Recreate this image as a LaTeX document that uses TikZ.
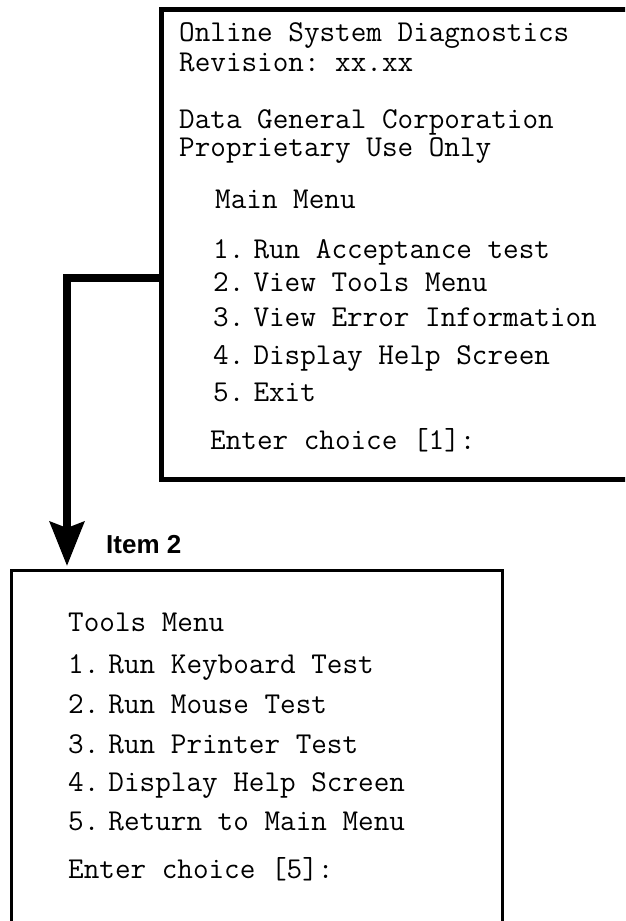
\documentclass[tikz,border=0pt]{standalone}
\usepackage{fontspec}
\setsansfont{Liberation Sans}
\usetikzlibrary{arrows.meta,positioning}
\tikzset{
  scr/.style ={draw,line width=5pt,rectangle,inner sep=0pt,anchor=north west},
  sub/.style ={draw,line width=2.5pt,rectangle,inner sep=0pt,anchor=north west},
  txt/.style ={anchor=base west,inner sep=0pt,font=\fontsize{30.3}{34}\selectfont\ttfamily\frenchspacing},
  tag/.style ={anchor=base west,inner sep=0pt,font=\fontsize{26}{30}\selectfont\sffamily\bfseries},
  conn/.style={line width=8pt,-{Stealth[length=44pt,width=34pt,inset=6pt]}},
}
\newcommand{\opt}[2]{#1.\hspace{.3em}#2}

\begin{document}
\begin{tikzpicture}[x=1pt,y=-1pt]
  \useasboundingbox (0,0) rectangle (625,921);
  \clip (0,0) rectangle (625,921);
  % the two screens (cut off at the page edge)
  \node[scr,minimum width=600pt,minimum height=470pt] (main) at (159,7) {};
  \node[sub,minimum width=491pt,minimum height=500pt] (tools) at (10,569) {};
  % main menu screen
  \node[txt] (h1) at (179,41)  {Online System Diagnostics};
  \node[txt] (h2) at (179,71)  {Revision: xx.xx};
  \node[txt] (h3) at (179,128) {Data General Corporation};
  \node[txt] (h4) at (179,156) {Proprietary Use Only};
  \node[txt] (mm) at (215,208) {Main Menu};
  \node[txt] (m1) at (213,258) {\opt{1}{Run Acceptance test}};
  \node[txt] (m2) at (213,291) {\opt{2}{View Tools Menu}};
  \node[txt] (m3) at (213,326) {\opt{3}{View Error Information}};
  \node[txt] (m4) at (213,364) {\opt{4}{Display Help Screen}};
  \node[txt] (m5) at (213,401) {\opt{5}{Exit}};
  \node[txt] (me) at (210,449) {Enter choice [1]:};
  % tools menu screen
  \node[txt] (tm) at (68,631) {Tools Menu};
  \node[txt] (t1) at (68,673) {\opt{1}{Run Keyboard Test}};
  \node[txt] (t2) at (68,713) {\opt{2}{Run Mouse Test}};
  \node[txt] (t3) at (68,753) {\opt{3}{Run Printer Test}};
  \node[txt] (t4) at (68,791) {\opt{4}{Display Help Screen}};
  \node[txt] (t5) at (68,830) {\opt{5}{Return to Main Menu}};
  \node[txt] (te) at (68,878) {Enter choice [5]:};
  % selecting item 2
  \draw[conn,shorten >=3pt] ([yshift=4pt]main.west |- m2.west) -| ([xshift=57pt]tools.north west);
  \node[tag] (it2) at (106,553) {Item 2};
\end{tikzpicture}
\end{document}
